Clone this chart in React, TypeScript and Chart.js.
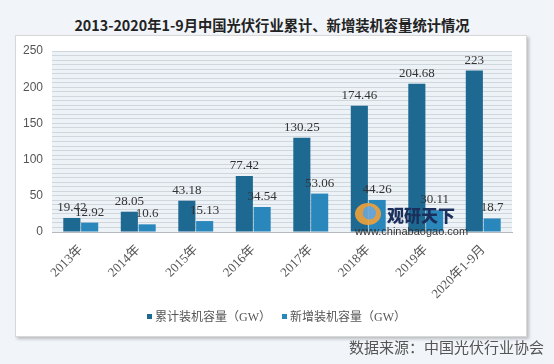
import React, { useEffect, useRef } from "react";
import { Chart, registerables } from "chart.js";

Chart.register(...registerables);

const categories = ["2013年", "2014年", "2015年", "2016年", "2017年", "2018年", "2019年", "2020年1-9月"];
const cumulative = [19.42, 28.05, 43.18, 77.42, 130.25, 174.46, 204.68, 223];
const added = [12.92, 10.6, 15.13, 34.54, 53.06, 44.26, 30.11, 18.7];
const seriesNames = ["累计装机容量（GW）", "新增装机容量（GW）"];
const seriesColors = ["#1e6992", "#2a87bc"];
const yTicks = [0, 50, 100, 150, 200, 250];

const SERIF = '"Liberation Serif", "DejaVu Serif", "Noto Sans CJK SC", serif';

const bgPlugin = {
  id: "plotBg",
  beforeDraw(chart: any) {
    const { ctx, chartArea } = chart;
    ctx.save();
    ctx.fillStyle = "#edf2f7";
    ctx.fillRect(chartArea.left, chartArea.top, chartArea.right - chartArea.left, chartArea.bottom - chartArea.top);
    ctx.restore();
  },
};

const labelPlugin = {
  id: "valueLabels",
  afterDatasetsDraw(chart: any) {
    const { ctx } = chart;
    ctx.save();
    ctx.font = "13px " + SERIF;
    ctx.fillStyle = "#333333";
    ctx.textAlign = "center";
    ctx.textBaseline = "alphabetic";
    chart.data.datasets.forEach((ds: any, i: number) => {
      const meta = chart.getDatasetMeta(i);
      meta.data.forEach((el: any, j: number) => {
        ctx.fillText(String(ds.data[j]), el.x, el.y - 7);
      });
    });
    ctx.restore();
  },
};

export default function App() {
  const ref = useRef<HTMLCanvasElement | null>(null);
  useEffect(() => {
    if (!ref.current) return;
    const chart = new Chart(ref.current, {
      type: "bar",
      data: {
        labels: categories,
        datasets: [
          { label: seriesNames[0], data: cumulative, backgroundColor: seriesColors[0], borderWidth: 0 },
          { label: seriesNames[1], data: added, backgroundColor: seriesColors[1], borderWidth: 0 },
        ],
      },
      options: {
        animation: false,
        responsive: false,
        maintainAspectRatio: false,
        layout: { padding: { left: 8, right: 42, top: 51, bottom: 64 } },
        datasets: { bar: { categoryPercentage: 0.62, barPercentage: 0.96 } },
        plugins: {
          title: { display: false },
          tooltip: { enabled: false },
          legend: { display: false },
        },
        scales: {
          x: {
            grid: { display: false },
            border: { display: true, color: "#b5b9bd" },
            ticks: {
              color: "#555555",
              font: { size: 13, family: SERIF },
              maxRotation: 45,
              minRotation: 45,
              padding: 2,
            },
            afterFit(scale: any) {
              scale.height = 68;
            },
          },
          y: {
            min: 0,
            max: 250,
            grid: { color: "#cfd6dd", drawTicks: false },
            border: { display: false },
            ticks: {
              stepSize: 6.25,
              autoSkip: false,
              padding: 9,
              color: "#555555",
              font: { size: 12, family: '"Liberation Sans", Arial, sans-serif' },
              callback: (v: any) => (yTicks.includes(Number(v)) ? String(v) : ""),
            },
            afterFit(scale: any) {
              scale.width = 44;
            },
          },
        },
      },
      plugins: [bgPlugin, labelPlugin],
    });
    return () => chart.destroy();
  }, []);

  const legendItem = (i: number, left: number) => (
    <div
      key={i}
      style={{
        position: "absolute",
        left,
        top: 307,
        height: 18,
        display: "flex",
        alignItems: "center",
        fontFamily: SERIF,
        fontSize: 12,
        color: "#555",
        whiteSpace: "nowrap",
      }}
    >
      <span style={{ display: "inline-block", width: 5, height: 5, background: seriesColors[i], marginRight: 3 }} />
      {seriesNames[i]}
    </div>
  );

  return (
    <div style={{ position: "fixed", left: 0, top: 0, width: 554, height: 364, background: "#f1f5f9", overflow: "hidden" }}>
      <div
        style={{
          position: "absolute",
          left: 0,
          width: 544,
          top: 14,
          textAlign: "center",
          fontFamily: '"Noto Sans CJK SC", sans-serif',
          fontWeight: 700,
          fontSize: 14.3,
          color: "#222",
          lineHeight: "22px",
          whiteSpace: "nowrap",
        }}
      >
        2013-2020年1-9月中国光伏行业累计、新增装机容量统计情况
      </div>
      <div
        style={{
          position: "absolute",
          left: 15,
          top: 35,
          width: 510,
          height: 300,
          background: "#ffffff",
          border: "1px solid #d8d8d8",
          boxShadow: "2px 2px 3px #b9bcbf",
        }}
      />
      <canvas ref={ref} width={554} height={364} style={{ position: "absolute", left: 0, top: 0, width: 554, height: 364 }} />
      {legendItem(0, 147)}
      {legendItem(1, 282)}
      <div
        style={{
          position: "absolute",
          left: 355,
          top: 203,
          width: 26,
          height: 22,
          borderRadius: "50%",
          background: "radial-gradient(circle at 55% 45%, #6fa9d6 0 35%, #f0a23a 36% 100%)",
          opacity: 0.9,
        }}
      />
      <div
        style={{
          position: "absolute",
          left: 387,
          top: 204,
          fontFamily: '"Noto Sans CJK SC", sans-serif',
          fontWeight: 900,
          fontSize: 17,
          lineHeight: "22px",
          color: "#1b2f5c",
        }}
      >
        观研天下
      </div>
      <div
        style={{
          position: "absolute",
          left: 355,
          top: 225,
          fontFamily: '"Liberation Sans", Arial, sans-serif',
          fontSize: 11,
          lineHeight: "12px",
          color: "#333",
        }}
      >
        www.chinabaogao.com
      </div>
      <div
        style={{
          position: "absolute",
          left: 349,
          top: 338,
          fontFamily: '"Noto Sans CJK SC", sans-serif',
          fontSize: 15,
          lineHeight: "18px",
          color: "#555",
          whiteSpace: "nowrap",
        }}
      >
        数据来源：中国光伏行业协会
      </div>
    </div>
  );
}
